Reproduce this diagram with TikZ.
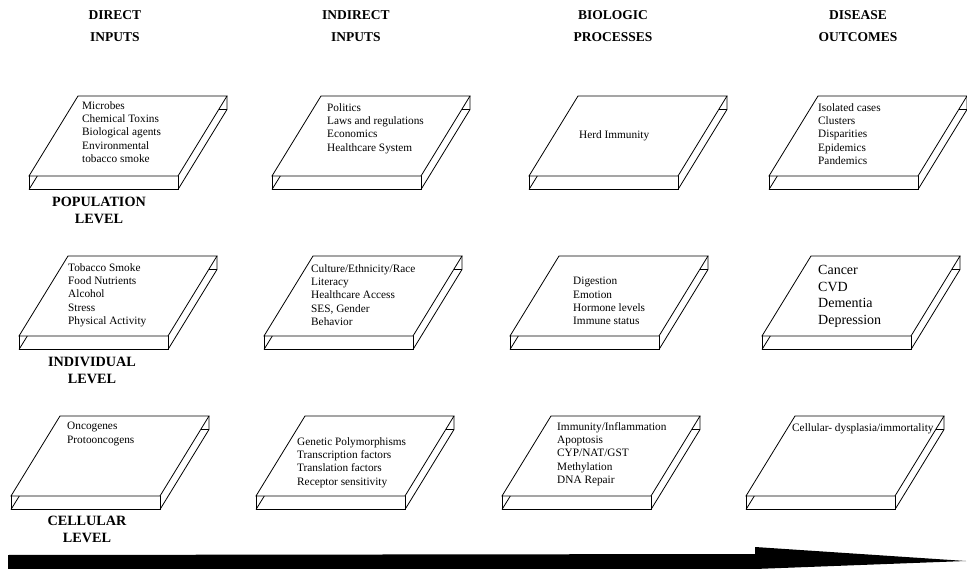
\documentclass[tikz,border=0pt]{standalone}
\usepackage{fontspec}
\setmainfont{Liberation Serif}
\begin{document}
\begin{tikzpicture}[x=1pt,y=-1pt,
  slabline/.style={draw=black,line width=0.8pt,line join=miter},
  itemtxt/.style={anchor=north west,inner sep=0pt,align=left,font=\fontsize{11.3}{13.4}\selectfont},
  bigtxt/.style={anchor=north west,inner sep=0pt,align=left,font=\fontsize{14}{16.7}\selectfont},
  headtxt/.style={anchor=north,inner sep=0pt,align=center,font=\fontsize{13.5}{22.5}\selectfont\bfseries},
  leveltxt/.style={anchor=north,inner sep=0pt,align=center,font=\fontsize{14.2}{17}\selectfont\bfseries}]
\useasboundingbox (0,0) rectangle (967,569);
\newcommand{\slabdraw}[2]{%
  \draw[slabline] (#1,#2) -- ++(149,0) -- ++(-49,80) -- ++(-149,0) -- cycle;
  \draw[slabline] (#1-49,#2+80) -- ++(0,13.5) -- ++(149,0) -- ++(0,-13.5);
  \draw[slabline] (#1+149,#2) -- ++(0,13.5) -- ++(-49,80);
  \draw[slabline] (#1-49,#2+93.5) -- ++(8.3,-13.5);
  \draw[slabline] (#1+149,#2+13.5) -- ++(-8.3,0);
}
% headers
\node[headtxt] (h1) at (115,10) {DIRECT\\INPUTS};
\node[headtxt] (h2) at (356,10) {INDIRECT\\INPUTS};
\node[headtxt] (h3) at (613,10) {BIOLOGIC\\PROCESSES};
\node[headtxt] (h4) at (858,10) {DISEASE\\OUTCOMES};
% row 1
\slabdraw{78}{96}
\slabdraw{321}{96}
\slabdraw{578}{96}
\slabdraw{818}{96}
\node[itemtxt] (t11) at (82,101) {Microbes\\Chemical Toxins\\Biological agents\\Environmental\\tobacco smoke};
\node[itemtxt] (t12) at (327,103) {Politics\\Laws and regulations\\Economics\\Healthcare System};
\node[itemtxt] (t13) at (579,130) {Herd Immunity};
\node[itemtxt] (t14) at (818,103) {Isolated cases\\Clusters\\Disparities\\Epidemics\\Pandemics};
\node[leveltxt] (l1) at (99,196.5) {POPULATION\\LEVEL};
% row 2
\slabdraw{68}{256}
\slabdraw{313}{256}
\slabdraw{559}{256}
\slabdraw{811}{256}
\node[itemtxt] (t21) at (68,263) {Tobacco Smoke\\Food Nutrients\\Alcohol\\Stress\\Physical Activity};
\node[itemtxt] (t22) at (311,264) {Culture/Ethnicity/Race\\Literacy\\Healthcare Access\\SES, Gender\\Behavior};
\node[itemtxt] (t23) at (573,277) {Digestion\\Emotion\\Hormone levels\\Immune status};
\node[bigtxt] (t24) at (818,265) {Cancer\\CVD\\Dementia\\Depression};
\node[leveltxt] (l2) at (92,356.5) {INDIVIDUAL\\LEVEL};
% row 3
\slabdraw{60}{416}
\slabdraw{305}{416}
\slabdraw{551}{416}
\slabdraw{795}{416}
\node[itemtxt] (t31) at (67,422) {Oncogenes\\Protooncogens};
\node[itemtxt] (t32) at (297,437) {Genetic Polymorphisms\\Transcription factors\\Translation factors\\Receptor sensitivity};
\node[itemtxt] (t33) at (557,422) {Immunity/Inflammation\\Apoptosis\\CYP/NAT/GST\\Methylation\\DNA Repair};
\node[itemtxt] (t34) at (792,423) {Cellular- dysplasia/immortality};
\node[leveltxt] (l3) at (87,515.5) {CELLULAR\\LEVEL};
% bottom arrow
\fill[black] (8,555) -- (755,554) -- (755,547) -- (966,561) -- (755,569) -- (8,569) -- cycle;
\end{tikzpicture}
\end{document}
